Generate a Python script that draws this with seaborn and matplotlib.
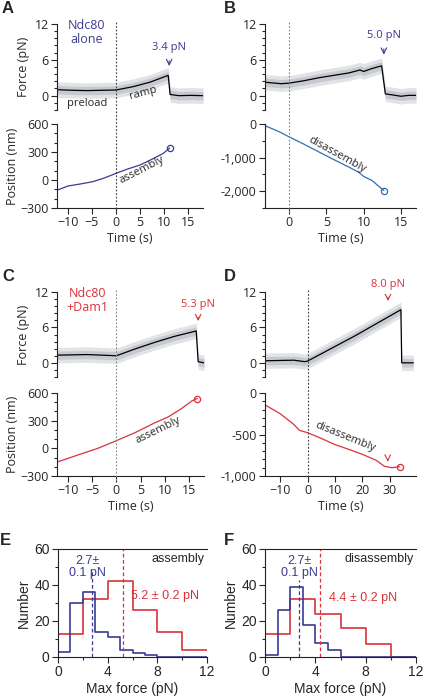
import numpy as np
import pandas as pd
import matplotlib
matplotlib.use("Agg")
import matplotlib.pyplot as plt
import matplotlib.transforms as mtrans
from matplotlib.lines import Line2D
from matplotlib.ticker import MultipleLocator, FuncFormatter
import seaborn as sns

# colours
navy = "#3b3b92"
blue = "#2f6fb6"
red = "#d8323a"
band_in = "#c7c9d0"
band_out = "#e2e3e7"

# ---- A: Ndc80 alone, assembly
a_force_t = [-12.2, -9, -6, -3, 0, 3.5, 7, 10.8, 11.2, 13, 15.5, 18]
a_force = [1.0, 0.9, 0.85, 0.9, 0.95, 1.5, 2.25, 3.4, 0.2, 0.0, 0.05, 0.0]
a_pos_t = [-12.1, -9.9, -7.4, -4.8, -2.6, 0, 2.2, 5, 7.4, 9.8, 11.1]
a_pos = [-107, -64, -43, -18, 18, 71, 114, 161, 221, 286, 342]

# ---- B: Ndc80 alone, disassembly
b_force_t = [-3.2, -1, 0, 2, 4, 6, 8, 9.5, 10, 11, 12.4, 12.9, 14, 15, 16, 17]
b_force = [2.25, 2.0, 2.1, 2.5, 3.0, 3.4, 3.8, 4.3, 4.05, 4.5, 5.0, 0.3, 0.1, -0.1, 0.05, 0.05]
b_pos_t = [-3.1, -1.3, 0, 2, 4, 6, 8, 9.3, 10, 11.1, 12.7]
b_pos = [-60, -230, -380, -600, -830, -1060, -1280, -1430, -1560, -1680, -1980]

# ---- C: Ndc80 + Dam1, assembly
c_force_t = [-12.2, -6, 0, 4, 8, 12, 16.4, 16.8, 18]
c_force = [1.3, 1.4, 1.2, 2.4, 3.5, 4.5, 5.4, 0.2, 0.0]
c_pos_t = [-11.9, -7.9, -3.8, 0, 3.8, 7.9, 10.7, 13.4, 15.5, 16.6]
c_pos = [-144, -72, 0, 83, 169, 277, 342, 432, 514, 540]

# ---- D: Ndc80 + Dam1, disassembly
d_force_t = [-15.4, -5, -1, 0, 17, 34.0, 34.3, 38.5]
d_force = [0.35, 0.45, 0.2, 0.3, 4.5, 9.0, 0.0, 0.0]
d_pos_t = [-15.2, -10, -5, -3, 0, 5.2, 10, 15, 20, 25, 28, 30.7, 33.5]
d_pos = [-149, -249, -378, -450, -478, -550, -622, -679, -739, -811, -883, -900, -888]

# ---- E/F: rupture force histograms
blue_edges = list(range(0, 13, 1))
red_edges = list(range(0, 13, 2))
e_blue = [3, 30, 36, 14, 11, 4, 2, 1, 0, 0, 0, 0]
e_red = [13, 32, 42, 26, 14, 4]
f_blue = [1, 26, 39, 18, 8, 4, 0, 0, 0, 0, 0, 0]
f_red = [13, 32, 24, 16, 7, 0]
e_means = (2.7, 5.2)
f_means = (2.7, 4.4)

sns.set_style("ticks")
plt.rcParams["font.family"] = ["Open Sans", "DejaVu Sans"]
plt.rcParams["axes.linewidth"] = 0.8
plt.rcParams["xtick.major.width"] = 0.8
plt.rcParams["ytick.major.width"] = 0.8
plt.rcParams["xtick.minor.width"] = 0.8
plt.rcParams["ytick.minor.width"] = 0.8
plt.rcParams["xtick.major.size"] = 4
plt.rcParams["ytick.major.size"] = 4
plt.rcParams["xtick.minor.size"] = 2.5
plt.rcParams["ytick.minor.size"] = 2.5
plt.rcParams["axes.edgecolor"] = "#222222"

fig = plt.figure(figsize=(4.24, 7.0), dpi=100)
W, H = 424, 700


def box(l, t, r, b):
    return [l / W, 1 - b / H, (r - l) / W, (b - t) / H]


def comma(v, pos):
    return f"{int(v):,}"


def force_panel(rect, t, f, xlim):
    ax = fig.add_axes(box(*rect))
    t = np.array(t)
    f = np.array(f)
    ax.fill_between(t, f - 1.3, f + 1.3, color=band_out, lw=0)
    ax.fill_between(t, f - 0.7, f + 0.7, color=band_in, lw=0)
    sns.lineplot(x=t, y=f, ax=ax, color="black", lw=0.9)
    ax.set_xlim(*xlim)
    ax.set_ylim(-2.4, 12)
    ax.set_yticks([0, 6, 12])
    ax.yaxis.set_minor_locator(MultipleLocator(1.2))
    for s in ["top", "right", "bottom"]:
        ax.spines[s].set_visible(False)
    ax.set_xticks([])
    ax.tick_params(labelsize=9, pad=2)
    return ax


def pos_panel(rect, t, p, xlim, ylim, color, xticks):
    ax = fig.add_axes(box(*rect))
    sns.lineplot(x=t, y=p, ax=ax, color=color, lw=0.9)
    ax.plot(t[-1], p[-1], "o", mfc="none", mec=color, ms=4.5, mew=0.9)
    ax.set_xlim(*xlim)
    ax.set_ylim(*ylim)
    ax.set_xticks(xticks)
    sns.despine(ax=ax)
    ax.set_xlabel("Time (s)", fontsize=9, labelpad=2)
    ax.tick_params(labelsize=9, pad=2)
    return ax


def zero_line(ax_bot, top_px, bot_px, color):
    tr = mtrans.blended_transform_factory(ax_bot.transData, fig.transFigure)
    fig.add_artist(Line2D([0, 0], [1 - top_px / H, 1 - bot_px / H], transform=tr,
                          color=color, lw=0.8, ls=(0, (1.6, 1.6))))


def force_arrow(ax, x, y_text, y0, y1, txt, color):
    ax.text(x, y_text, txt, color=color, fontsize=8, ha="center", va="center")
    ax.annotate("", xy=(x, y1), xytext=(x, y0),
                arrowprops=dict(arrowstyle="->", color=color, lw=0.8))


# A
axA = force_panel((57, 24, 203, 110), a_force_t, a_force, (-12.2, 18))
axA.set_ylabel("Force (pN)", fontsize=9, labelpad=3)
axA.text(-6.0, 12.9, "Ndc80\nalone", color=navy, fontsize=9, ha="center", va="top", linespacing=1.15)
axA.text(-6.0, -1.3, "preload", fontsize=8, ha="center", va="center")
axA.text(5.6, 0.5, "ramp", fontsize=8, ha="center", va="center", rotation=15)
force_arrow(axA, 11.0, 8.1, 6.3, 4.5, "3.4 pN", navy)
axA2 = pos_panel((57, 124, 203, 208), np.array(a_pos_t), np.array(a_pos), (-12.2, 18),
                 (-300, 600), navy, [-10, -5, 0, 5, 10, 15])
axA2.set_yticks([-300, 0, 300, 600])
axA2.yaxis.set_minor_locator(MultipleLocator(100))
axA2.set_ylabel("Position (nm)", fontsize=9, labelpad=1)
axA2.text(5.3, 105, "assembly", fontsize=8, ha="center", va="center", rotation=27)
zero_line(axA2, 22, 214, "#444444")

# B
axB = force_panel((265, 24, 416, 110), b_force_t, b_force, (-3.2, 17))
force_arrow(axB, 12.7, 10.1, 8.3, 6.4, "5.0 pN", navy)
axB2 = pos_panel((265, 124, 416, 208), np.array(b_pos_t), np.array(b_pos), (-3.2, 17),
                 (-2500, 0), blue, [0, 5, 10, 15])
axB2.set_yticks([-2000, -1000, 0])
axB2.yaxis.set_minor_locator(MultipleLocator(500))
axB2.yaxis.set_major_formatter(FuncFormatter(comma))
axB2.text(6.4, -900, "disassembly", fontsize=8, ha="center", va="center", rotation=-29)
zero_line(axB2, 22, 214, "#888888")

# C
axC = force_panel((57, 292, 204, 377), c_force_t, c_force, (-12.2, 18))
axC.set_ylabel("Force (pN)", fontsize=9, labelpad=3)
axC.text(-6.0, 12.9, "Ndc80\n+Dam1", color=red, fontsize=9, ha="center", va="top", linespacing=1.15)
force_arrow(axC, 16.8, 9.9, 8.2, 6.6, "5.3 pN", red)
axC2 = pos_panel((57, 393, 204, 476), np.array(c_pos_t), np.array(c_pos), (-12.2, 18),
                 (-300, 600), red, [-10, -5, 0, 5, 10, 15])
axC2.set_yticks([-300, 0, 300, 600])
axC2.yaxis.set_minor_locator(MultipleLocator(100))
axC2.set_ylabel("Position (nm)", fontsize=9, labelpad=1)
axC2.text(8.6, 195, "assembly", fontsize=8, ha="center", va="center", rotation=26)
zero_line(axC2, 290, 482, "#888888")

# D
axD = force_panel((265, 292, 416, 377), d_force_t, d_force, (-15.5, 39.5))
force_arrow(axD, 29.3, 13.2, 11.6, 10.0, "8.0 pN", red)
axD2 = pos_panel((265, 393, 416, 476), np.array(d_pos_t), np.array(d_pos), (-15.5, 39.5),
                 (-1000, 0), red, [-10, 0, 10, 20, 30])
axD2.set_yticks([-1000, -500, 0])
axD2.yaxis.set_minor_locator(MultipleLocator(100))
axD2.yaxis.set_major_formatter(FuncFormatter(comma))
axD2.text(13.8, -530, "disassembly", fontsize=8, ha="center", va="center", rotation=-22)
axD2.annotate("", xy=(29.2, -860), xytext=(29.2, -770),
              arrowprops=dict(arrowstyle="->", color=red, lw=0.8))
zero_line(axD2, 290, 482, "#444444")


# E / F histograms
def hist_panel(rect, blue_counts, red_counts, means, tag, blue_top, red_pos, blue_x):
    ax = fig.add_axes(box(*rect))
    bdf = pd.DataFrame({"force": [e + 0.5 for e in blue_edges[:-1]], "n": blue_counts})
    rdf = pd.DataFrame({"force": [e + 1.0 for e in red_edges[:-1]], "n": red_counts})
    sns.histplot(data=rdf, x="force", weights="n", bins=red_edges, element="step",
                 fill=False, color=red, lw=1.2, ax=ax)
    sns.histplot(data=bdf, x="force", weights="n", bins=blue_edges, element="step",
                 fill=False, color=navy, lw=1.2, ax=ax)
    ax.plot([means[0], means[0]], [0, blue_top], color=navy, lw=0.9, ls=(0, (3, 2)))
    ax.plot([means[1], means[1]], [0, 60], color=red, lw=0.9, ls=(0, (3, 2)))
    ax.set_xlim(0, 12)
    ax.set_ylim(0, 60)
    ax.set_xticks([0, 4, 8, 12])
    ax.set_yticks([0, 20, 40, 60])
    ax.xaxis.set_minor_locator(MultipleLocator(2))
    ax.yaxis.set_minor_locator(MultipleLocator(10))
    ax.spines["right"].set_visible(False)
    ax.set_xlabel("Max force (pN)", fontsize=10, family=["Liberation Sans"], labelpad=2)
    ax.set_ylabel("Number", fontsize=10, family=["Liberation Sans"], labelpad=2)
    for lab in ax.get_xticklabels() + ax.get_yticklabels():
        lab.set_family(["Liberation Sans"])
    ax.tick_params(labelsize=10, pad=2)
    ax.text(blue_x, 50, "2.7\u00b1\n0.1 pN", color=navy,
            fontsize=9, ha="center", va="center", family=["Liberation Sans", "DejaVu Sans"],
            linespacing=1.1)
    ax.text(red_pos[0], red_pos[1], f"{means[1]} \u00b1 0.2 pN", color=red, fontsize=9,
            ha="center", va="center", family=["Liberation Sans", "DejaVu Sans"])
    ax.text(11.8, 54.5, tag, fontsize=9, ha="right", va="center",
            family=["Liberation Sans", "DejaVu Sans"])
    return ax


axE = hist_panel((58, 549, 207, 657), e_blue, e_red, e_means, "assembly", 47, (8.6, 34), 2.4)
axF = hist_panel((265, 549, 416, 657), f_blue, f_red, f_means, "disassembly", 43, (7.8, 33), 2.7)

# panel letters
for lab, x, y in [("A", 2, 1), ("B", 224, 1), ("C", 2, 269), ("D", 224, 269),
                  ("E", 0, 533), ("F", 224, 533)]:
    fig.text(x / W, 1 - y / H, lab, fontsize=12, fontweight="bold", ha="left", va="top",
             family=["Liberation Sans", "DejaVu Sans"])

fig.savefig("out.png", dpi=100)
